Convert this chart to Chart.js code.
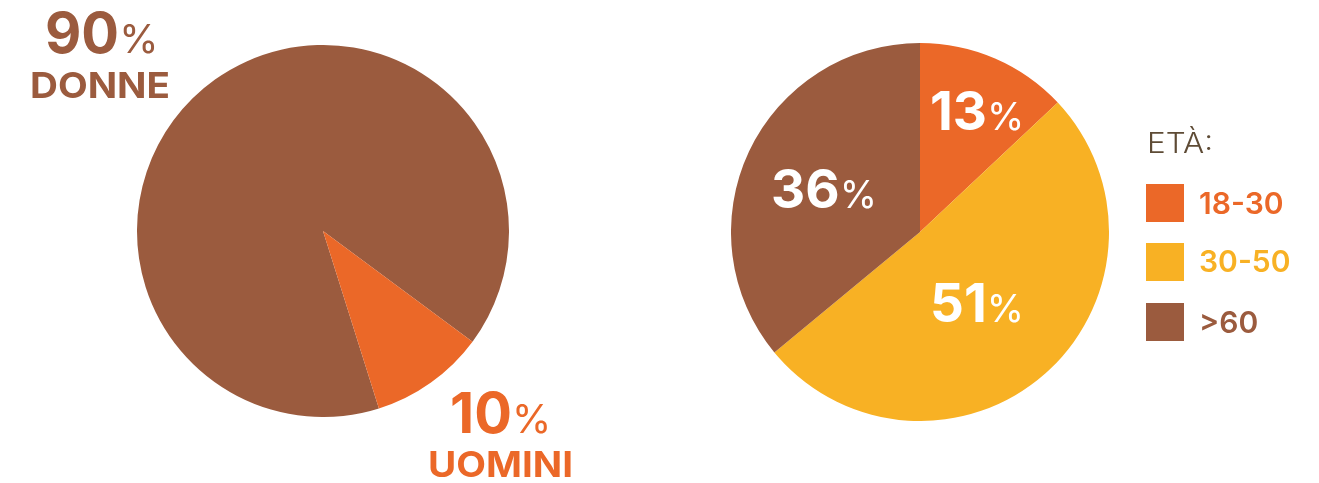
<!DOCTYPE html>
<html lang="it">
<head>
<meta charset="utf-8">
<script src="https://cdn.jsdelivr.net/npm/chart.js@4.4.1/dist/chart.umd.min.js"></script>
<style>
  body { margin: 0; background: #fff; width: 1319px; height: 483px; overflow: hidden; position: relative; font-family: Inter, "Open Sans", sans-serif; }
  #genere { position: absolute; left: 137px; top: 45px; }
  #eta { position: absolute; left: 731px; top: 43px; }
  #testi { position: absolute; left: 0; top: 0; pointer-events: none; }
</style>
</head>
<body>
<canvas id="genere" width="372" height="372"></canvas>
<canvas id="eta" width="378" height="378"></canvas>
<svg id="testi" width="1319" height="483" xmlns="http://www.w3.org/2000/svg"></svg>
<script>
// dati
const generiEtichette = ['DONNE', 'UOMINI'];
const generiValori = [90, 10];
const etaTitolo = 'ETÀ:';
const etaEtichette = ['18-30', '30-50', '>60'];
const etaValori = [13, 51, 36];

const MARRONE = '#9B5B3E';
const ARANCIO = '#EB6828';
const GIALLO = '#F8B124';

const coloriGeneri = [MARRONE, ARANCIO];
const coloriEta = [ARANCIO, GIALLO, MARRONE];

function opzioni(rotazione) {
    return {
        responsive: false,
        animation: false,
        rotation: rotazione,
        layout: { padding: 0 },
        plugins: { legend: { display: false }, tooltip: { enabled: false } }
    };
}

new Chart(document.getElementById('genere'), {
    type: 'pie',
    data: {
        labels: generiEtichette,
        datasets: [{ data: generiValori, backgroundColor: coloriGeneri, borderWidth: 0 }]
    },
    options: opzioni(162.5)
});

new Chart(document.getElementById('eta'), {
    type: 'pie',
    data: {
        labels: etaEtichette,
        datasets: [{ data: etaValori, backgroundColor: coloriEta, borderWidth: 0 }]
    },
    options: opzioni(0)
});

// testi (svg, testo vero)
const svg = document.getElementById('testi');
const NS = 'http://www.w3.org/2000/svg';

function testo(x, y, attr, parti) {
    const t = document.createElementNS(NS, 'text');
    t.setAttribute('x', x);
    t.setAttribute('y', y);
    for (const k in attr) t.setAttribute(k, attr[k]);
    parti.forEach(p => {
        const s = document.createElementNS(NS, 'tspan');
        s.textContent = p.t;
        if (p.size) s.setAttribute('font-size', p.size);
        if (p.weight) s.setAttribute('font-weight', p.weight);
        t.appendChild(s);
    });
    svg.appendChild(t);
    return t;
}

function percento(x, y, valore, colore, size) {
    testo(x, y, { fill: colore, 'font-family': 'Inter' }, [
        { t: String(valore), size: size, weight: 700 },
        { t: '%', size: Math.round(size * 0.72), weight: 400 }
    ]);
}

// grafico sinistro
percento(45, 53, generiValori[0], MARRONE, 56);
testo(30, 98, { fill: MARRONE, 'font-family': 'Inter', 'font-size': 36, 'font-weight': 700, textLength: 140, lengthAdjust: 'spacingAndGlyphs' }, [{ t: generiEtichette[0] }]);
percento(450, 433, generiValori[1], ARANCIO, 56);
testo(428, 477, { fill: ARANCIO, 'font-family': 'Inter', 'font-size': 35, 'font-weight': 700, textLength: 145, lengthAdjust: 'spacingAndGlyphs' }, [{ t: generiEtichette[1] }]);

// grafico destro
const posEta = [[930, 130], [930, 322], [771, 208]];
etaValori.forEach((v, i) => percento(posEta[i][0], posEta[i][1], v, '#fff', 53));

// legenda
testo(1147, 153, { fill: '#5E4B35', 'font-family': 'Inter', 'font-size': 28, 'font-weight': 300, textLength: 66, lengthAdjust: 'spacingAndGlyphs' }, [{ t: etaTitolo }]);
const legY = [184, 243, 303];
const legBase = [214, 272, 333];
etaEtichette.forEach((et, i) => {
    const r = document.createElementNS(NS, 'rect');
    r.setAttribute('x', 1146);
    r.setAttribute('y', legY[i]);
    r.setAttribute('width', 38);
    r.setAttribute('height', 38);
    r.setAttribute('fill', coloriEta[i]);
    svg.appendChild(r);
    testo(1199, legBase[i], { fill: coloriEta[i], 'font-family': 'Inter', 'font-size': 30, 'font-weight': 600 }, [{ t: et }]);
});
</script>
</body>
</html>
